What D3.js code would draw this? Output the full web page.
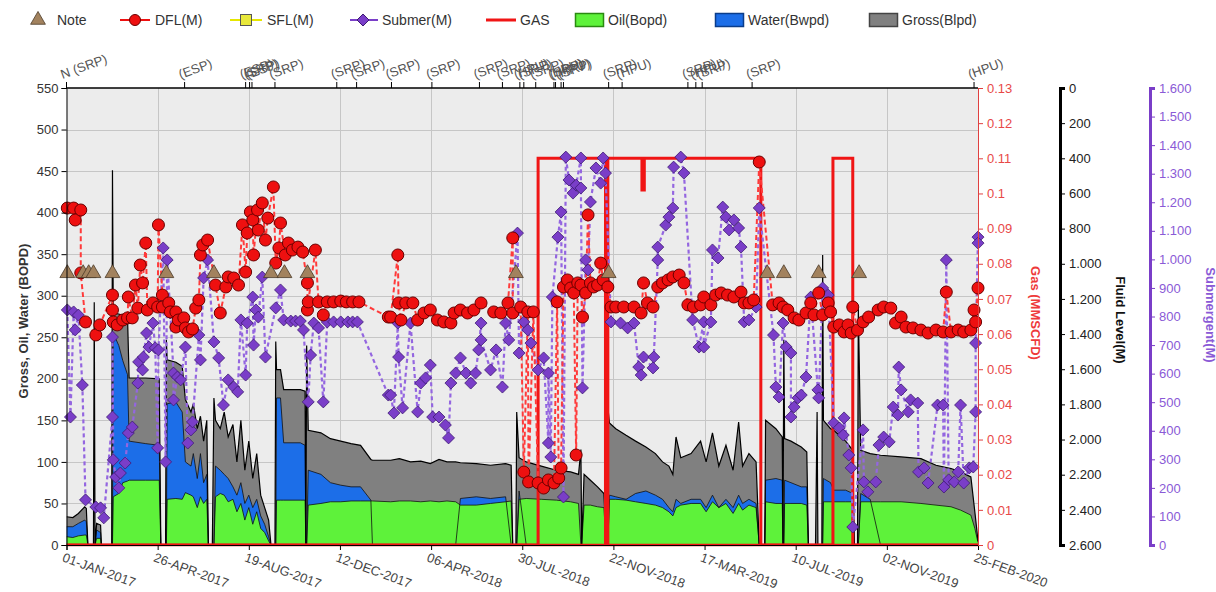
<!DOCTYPE html>
<html>
<head>
<meta charset="utf-8">
<script src="https://cdn.jsdelivr.net/npm/d3@7"></script>
<style>
  body { margin: 0; background: #fff; }
  svg { display: block; font-family: "Liberation Sans", Arial, sans-serif; }
</style>
</head>
<body>
<svg id="chart" width="1216" height="592"></svg>
<script>
// ---------- data ----------
// All day values are days counted from 01-JAN-2017.
const dateTickLabels = ["01-JAN-2017", "26-APR-2017", "19-AUG-2017", "12-DEC-2017", "06-APR-2018",
  "30-JUL-2018", "22-NOV-2018", "17-MAR-2019", "10-JUL-2019", "02-NOV-2019", "25-FEB-2020"];
const rateTicks = [0, 50, 100, 150, 200, 250, 300, 350, 400, 450, 500, 550];
const gasTicks = [0, 0.01, 0.02, 0.03, 0.04, 0.05, 0.06, 0.07, 0.08, 0.09, 0.1, 0.11, 0.12, 0.13];
const fluidTicks = [0, 200, 400, 600, 800, 1000, 1200, 1400, 1600, 1800, 2000, 2200, 2400, 2600];
const submTicks = [0, 100, 200, 300, 400, 500, 600, 700, 800, 900, 1000, 1100, 1200, 1300, 1400, 1500, 1600];

// production tests
const prodDays = [0, 8, 15, 23, 25, 27, 34, 35, 36, 38,
  43, 44, 57, 58, 59, 66, 71, 77, 79, 100,
  117, 119, 125, 126, 127, 138, 146, 150, 157, 160,
  165, 169, 173, 177, 179, 184, 186, 188, 194, 199,
  204, 210, 215, 220, 225, 230, 235, 240, 245, 250,
  255, 258, 263, 264, 265, 270, 274, 295, 301, 302,
  303, 305, 321, 333, 346, 359, 371, 384, 386, 409,
  420, 434, 447, 459, 470, 480, 491, 497, 517, 535,
  554, 561, 563, 567, 568, 571, 580, 599, 618, 636,
  646, 649, 650, 653, 661, 670, 678, 681, 683, 685,
  693, 706, 718, 731, 743, 752, 760, 765, 769, 775,
  788, 800, 807, 815, 823, 832, 841, 848, 853, 861,
  870, 874, 881, 882, 895, 903, 904, 905, 906, 914,
  927, 934, 936, 945, 947, 948, 953, 954, 955, 964,
  968, 983, 992, 994, 998, 999, 1002, 1014, 1027, 1053,
  1078, 1097, 1116, 1128, 1141, 1146, 1150];
const grossBlpd = [34, 33, 38, 46, 44, 0, 0, 292, 0, 26,
  24, 0, 0, 451, 279, 278, 276, 274, 201, 201,
  200, 0, 0, 247, 223, 220, 215, 175, 160, 170,
  140, 155, 125, 150, 0, 0, 177, 150, 140, 160,
  130, 145, 100, 150, 90, 125, 80, 110, 60, 45,
  30, 0, 0, 245, 211, 211, 187, 187, 185, 0,
  240, 138, 135, 128, 125, 122, 120, 103, 102, 102,
  104, 100, 101, 98, 103, 100, 100, 99, 98, 96,
  98, 96, 0, 0, 160, 105, 100, 95, 90, 88,
  85, 115, 0, 85, 78, 70, 62, 0, 166, 147,
  140, 132, 125, 118, 110, 100, 95, 85, 130, 105,
  110, 125, 100, 135, 95, 120, 90, 148, 95, 110,
  100, 0, 0, 150, 140, 130, 0, 247, 128, 125,
  118, 112, 0, 0, 160, 0, 0, 349, 150, 140,
  138, 125, 114, 0, 0, 286, 114, 110, 108, 106,
  104, 96, 92, 88, 82, 40, 5];
const waterBwpd = [22, 22, 26, 30, 28, 0, 0, 0, 0, 18,
  15, 0, 0, 0, 255, 240, 222, 205, 125, 122,
  120, 0, 0, 0, 170, 172, 160, 100, 95, 110,
  80, 110, 75, 85, 0, 0, 0, 95, 90, 85,
  80, 70, 60, 75, 50, 60, 45, 55, 35, 25,
  10, 0, 0, 0, 177, 177, 123, 123, 120, 0,
  0, 90, 85, 75, 72, 70, 70, 54, 0, 0,
  0, 0, 0, 0, 0, 0, 0, 56, 58, 56,
  58, 0, 0, 0, 0, 65, 0, 0, 0, 0,
  0, 0, 0, 0, 0, 0, 0, 0, 0, 60,
  58, 55, 62, 65, 60, 55, 45, 40, 55, 50,
  55, 55, 45, 60, 45, 55, 45, 60, 50, 55,
  50, 0, 0, 78, 80, 78, 0, 0, 78, 75,
  70, 70, 0, 0, 0, 0, 0, 0, 80, 75,
  66, 66, 62, 0, 0, 0, 62, 55, 0, 0,
  0, 0, 0, 0, 0, 0, 0];
const oilBopd = [10, 9, 11, 12, 12, 0, 0, 0, 0, 8,
  8, 0, 0, 0, 58, 62, 75, 77, 78, 78,
  78, 0, 0, 0, 55, 56, 55, 63, 60, 58,
  45, 58, 50, 55, 0, 0, 0, 58, 62, 60,
  52, 55, 40, 50, 30, 45, 25, 40, 20, 15,
  5, 0, 0, 0, 54, 54, 54, 54, 54, 0,
  0, 48, 50, 52, 52, 53, 53, 53, 53, 52,
  53, 53, 52, 53, 52, 53, 52, 48, 48, 50,
  52, 53, 0, 0, 0, 55, 56, 55, 54, 52,
  50, 0, 0, 48, 48, 46, 45, 0, 0, 55,
  55, 54, 52, 50, 48, 45, 40, 35, 45, 48,
  50, 50, 40, 52, 45, 50, 38, 50, 42, 48,
  45, 0, 0, 52, 50, 50, 0, 0, 50, 50,
  50, 48, 0, 0, 0, 0, 0, 0, 52, 52,
  52, 52, 52, 0, 0, 0, 52, 52, 52, 52,
  50, 48, 46, 42, 36, 20, 3];

// gas rate steps [day, MMSCFD]
const gasSteps = [[0, 0], [595, 0.11], [680, 0], [683, 0.11], [726, 0.101], [729, 0.11],
  [876, 0], [967, 0.11], [992, 0], [1150, 0]];

// dynamic fluid level [day, m]
const dflReadings = [[1, 683], [9, 683], [11, 751], [18, 694], [18, 1052], [24, 1331], [37, 1405], [42, 1348],
  [58, 1178], [58, 1263], [59, 1331], [64, 1348], [71, 1320], [77, 1308], [78, 1189], [83, 1308], [87, 1121],
  [90, 1252], [93, 1007], [96, 1109], [100, 882], [102, 1263], [109, 1223], [115, 1246], [116, 779], [121, 1178],
  [121, 1246], [129, 1223], [131, 1274], [138, 1274], [138, 1360], [141, 1320], [148, 1308], [150, 1365],
  [154, 1388], [159, 1371], [163, 1252], [167, 1206], [169, 950], [172, 893], [178, 865], [188, 1121],
  [194, 1280], [201, 1132], [204, 1075], [211, 1081], [217, 1121], [222, 779], [226, 1047], [228, 825],
  [232, 705], [235, 751], [236, 950], [241, 694], [242, 808], [247, 654], [251, 865], [254, 740], [261, 563],
  [264, 996], [268, 910], [270, 768], [276, 950], [280, 882], [285, 922], [292, 905], [298, 933], [304, 1109],
  [304, 1263], [305, 1217], [314, 922], [318, 1217], [324, 1291], [329, 1217], [337, 1217], [346, 1212],
  [353, 1217], [361, 1217], [369, 1217], [406, 1303], [409, 1303], [418, 950], [419, 1223], [422, 1320],
  [428, 1223], [437, 1223], [443, 1320], [451, 1280], [459, 1263], [468, 1320], [476, 1331], [485, 1337],
  [489, 1280], [497, 1263], [506, 1280], [514, 1263], [523, 1223], [539, 1274], [548, 1280], [557, 1223],
  [563, 853], [563, 1280], [573, 1246], [577, 2185], [582, 1274], [583, 2241], [589, 1274], [595, 2247],
  [602, 2276], [608, 2230], [615, 2247], [619, 1217], [621, 2219], [624, 2162], [627, 1132], [632, 1092],
  [636, 1138], [640, 1166], [643, 2088], [645, 1109], [649, 1121], [651, 1303], [655, 1166], [658, 722],
  [661, 1109], [665, 1132], [670, 1121], [674, 996], [677, 1092], [683, 1132], [687, 1246], [693, 1246],
  [703, 1246], [716, 1246], [725, 1280], [728, 1109], [733, 1223], [740, 1246], [746, 1132], [752, 1109],
  [759, 1092], [765, 1075], [773, 1064], [779, 1109], [784, 1234], [791, 1246], [800, 1234], [804, 1189],
  [813, 1234], [819, 1178], [826, 1166], [834, 1178], [842, 1189], [851, 1161], [855, 1223], [861, 1223],
  [867, 1206], [874, 421], [891, 1234], [899, 1223], [904, 1246], [910, 1263], [918, 1308], [924, 1320],
  [933, 1280], [939, 1223], [943, 1291], [949, 1166], [954, 1291], [961, 1223], [964, 1274], [968, 1360],
  [975, 1348], [981, 1388], [986, 1348], [990, 1394], [992, 1246], [998, 1377], [1005, 1331], [1012, 1303],
  [1024, 1263], [1031, 1246], [1040, 1252], [1046, 1337], [1053, 1303], [1059, 1360], [1068, 1365],
  [1078, 1377], [1087, 1394], [1097, 1377], [1106, 1388], [1110, 1161], [1116, 1388], [1125, 1377],
  [1132, 1388], [1141, 1377], [1145, 1263], [1147, 1331], [1150, 1138]];

// pump submergence [day, m]
const submReadings = [[1, 823], [5, 448], [9, 816], [11, 753], [15, 805], [20, 560], [24, 158], [37, 133],
  [43, 130], [47, 95], [58, 448], [58, 728], [59, 298], [62, 238], [66, 200], [68, 252], [74, 287], [78, 392],
  [83, 413], [90, 567], [91, 641], [96, 613], [97, 658], [101, 742], [104, 693], [109, 777], [112, 690],
  [115, 340], [116, 683], [122, 1040], [125, 291], [127, 998], [131, 812], [135, 602], [135, 508], [140, 588],
  [144, 578], [150, 693], [153, 357], [157, 403], [159, 431], [167, 735], [169, 648], [173, 935], [178, 998],
  [186, 711], [192, 655], [198, 490], [204, 578], [211, 553], [216, 536], [220, 788], [226, 595], [228, 777],
  [235, 868], [236, 700], [239, 823], [242, 798], [247, 938], [251, 658], [264, 830], [270, 893], [274, 788],
  [283, 784], [289, 784], [295, 784], [299, 753], [305, 501], [308, 665], [312, 777], [318, 760], [324, 501],
  [329, 781], [337, 781], [346, 781], [355, 781], [361, 781], [367, 781], [406, 525], [409, 525], [413, 462],
  [418, 777], [419, 658], [424, 480], [434, 777], [443, 466], [447, 567], [453, 585], [459, 630], [462, 448],
  [470, 448], [478, 420], [482, 375], [485, 567], [491, 602], [497, 655], [504, 602], [510, 567], [516, 602],
  [520, 683], [523, 777], [523, 718], [535, 613], [542, 683], [550, 553], [554, 777], [558, 718], [569, 1092],
  [571, 672], [577, 781], [582, 753], [586, 707], [595, 613], [602, 655], [608, 357], [608, 602], [611, 308],
  [613, 868], [620, 1078], [624, 1166], [627, 168], [630, 1358], [634, 1278], [639, 1232], [643, 1260],
  [649, 1355], [649, 1250], [651, 550], [655, 998], [658, 963], [661, 1201], [668, 1320], [674, 1267],
  [677, 1355], [680, 1302], [687, 781], [699, 777], [708, 760], [716, 777], [722, 623], [725, 595], [728, 658],
  [740, 620], [741, 658], [746, 998], [746, 1043], [756, 1120], [760, 1148], [765, 1180], [766, 1323],
  [775, 1358], [779, 1302], [790, 788], [798, 693], [804, 781], [804, 693], [813, 781], [815, 1033],
  [822, 1005], [828, 1183], [832, 1148], [836, 1103], [842, 1138], [848, 1110], [851, 1043], [855, 781],
  [861, 788], [870, 833], [874, 1180], [892, 735], [895, 553], [899, 518], [904, 777], [908, 693], [914, 672],
  [914, 448], [918, 483], [923, 515], [927, 525], [933, 588], [939, 868], [948, 543], [949, 515], [954, 900],
  [961, 875], [968, 427], [975, 410], [980, 385], [981, 445], [987, 315], [990, 270], [992, 63], [1005, 403],
  [1006, 221], [1011, 186], [1021, 221], [1025, 350], [1031, 378], [1038, 361], [1043, 483], [1049, 455],
  [1050, 623], [1053, 543], [1062, 466], [1065, 508], [1074, 497], [1075, 256], [1082, 270], [1087, 217],
  [1099, 490], [1106, 490], [1107, 203], [1110, 998], [1113, 228], [1120, 221], [1125, 256], [1128, 490],
  [1132, 217], [1139, 270], [1144, 273], [1147, 466], [1147, 707], [1150, 1078], [1150, 1057]];

// notes
const noteDays = [1, 21, 28, 34, 58, 126, 186, 258, 275, 304, 567, 684, 884, 905, 949, 1000];
const noteLevel = 327;

// well events shown above the plot
const eventDays = [0, 149, 226, 231, 234, 263, 341, 366, 410, 461, 521, 550, 572, 577, 592,
  615, 617, 624, 627, 684, 701, 784, 794, 802, 865, 1145];
const eventLabels = ["N (SRP)", "(ESP)", "(ESP)", "(SRP)", "(ESP)", "(SRP)", "(SRP)", "(SRP)", "(SRP)", "(SRP)",
  "(SRP)", "(SRP)", "(HPU)", "(SRP)", "(SRP)", "(HPU)", "(SRP)", "(HPU)", "(SRP)", "(SRP)", "(HPU)",
  "(SRP)", "(HPU)", "(SRP)", "(SRP)", "(HPU)"];

// ---------- layout ----------
const FONT = "'Liberation Sans', Arial, sans-serif";
const P = { left: 66.5, right: 978, top: 88, bottom: 545 };
const C = {
  grid: "#c6c6c6", bg: "#ececec", gross: "#808080", water: "#1c6ee8", oil: "#5ef23a",
  gas: "#f01515", dfl: "#ee1010", dflLine: "#ff3a3a", subm: "#7a3ec8", submLine: "#9466e0",
  note: "#a2825e", text: "#333"
};

const svg = d3.select("#chart");
const t0 = new Date(2017, 0, 1);
const toDate = d => d3.timeDay.offset(t0, d);
const parseTick = d3.timeParse("%d-%b-%Y");
const tickDates = dateTickLabels.map(parseTick);

const x = d3.scaleTime().domain([t0, new Date(2020, 1, 25)]).range([P.left, P.right]);
const yRate = d3.scaleLinear().domain([0, 550]).range([P.bottom, P.top]);
const yGas = d3.scaleLinear().domain([0, 0.13]).range([P.bottom, P.top]);
const yFluid = d3.scaleLinear().domain([0, 2600]).range([P.top, P.bottom]);
const ySubm = d3.scaleLinear().domain([0, 1600]).range([P.bottom, P.top]);

const dotLocale = d3.formatLocale({ decimal: ",", thousands: ".", grouping: [3], currency: ["", ""] });
const fmtThousands = dotLocale.format(",d");

// plot frame
svg.append("rect").attr("x", P.left).attr("y", P.top)
  .attr("width", P.right - P.left).attr("height", P.bottom - P.top).attr("fill", C.bg);

svg.append("defs").append("clipPath").attr("id", "plotClip")
  .append("rect").attr("x", P.left).attr("y", P.top - 1)
  .attr("width", P.right - P.left).attr("height", P.bottom - P.top + 2);

const grid = svg.append("g");
grid.selectAll("line.h").data(rateTicks.slice(1, -1)).join("line")
  .attr("x1", P.left).attr("x2", P.right)
  .attr("y1", d => Math.round(yRate(d)) + 0.5).attr("y2", d => Math.round(yRate(d)) + 0.5)
  .attr("stroke", C.grid);
grid.selectAll("line.v").data(tickDates.slice(1, -1)).join("line")
  .attr("y1", P.top).attr("y2", P.bottom)
  .attr("x1", d => Math.round(x(d)) + 0.5).attr("x2", d => Math.round(x(d)) + 0.5)
  .attr("stroke", C.grid);

const plot = svg.append("g").attr("clip-path", "url(#plotClip)");

// production areas
const rows = prodDays.map((d, i) => ({ t: toDate(d), g: grossBlpd[i], w: waterBwpd[i], o: oilBopd[i] }));
const areaOf = k => d3.area().x(d => x(d.t)).y0(yRate(0)).y1(d => yRate(d[k]));
const lineOf = k => d3.line().x(d => x(d.t)).y(d => yRate(d[k]));

plot.append("path").attr("d", areaOf("g")(rows)).attr("fill", C.gross);
plot.append("path").attr("d", areaOf("w")(rows)).attr("fill", C.water);
plot.append("path").attr("d", areaOf("o")(rows)).attr("fill", C.oil);
plot.append("path").attr("d", lineOf("w")(rows)).attr("fill", "none").attr("stroke", "#111").attr("stroke-width", 0.8);
plot.append("path").attr("d", lineOf("o")(rows)).attr("fill", "none").attr("stroke", "#111").attr("stroke-width", 0.8);
plot.append("path").attr("d", lineOf("g")(rows)).attr("fill", "none").attr("stroke", "#000").attr("stroke-width", 1.2);

// gas
plot.append("path")
  .attr("d", d3.line().curve(d3.curveStepAfter).x(d => x(toDate(d[0]))).y(d => yGas(d[1]))(gasSteps))
  .attr("fill", "none").attr("stroke", C.gas).attr("stroke-width", 3);

// dashed connectors
plot.append("path")
  .attr("d", d3.line().x(d => x(toDate(d[0]))).y(d => ySubm(d[1]))(submReadings))
  .attr("fill", "none").attr("stroke", C.submLine).attr("stroke-width", 2.2).attr("stroke-dasharray", "4,3");
plot.append("path")
  .attr("d", d3.line().x(d => x(toDate(d[0]))).y(d => yFluid(d[1]))(dflReadings))
  .attr("fill", "none").attr("stroke", C.dflLine).attr("stroke-width", 2).attr("stroke-dasharray", "5,3");

// markers
const diamond = "M0,-6L6,0L0,6L-6,0Z";
svg.append("g").selectAll("path").data(submReadings).join("path")
  .attr("d", diamond)
  .attr("transform", d => `translate(${x(toDate(d[0]))},${ySubm(d[1])})`)
  .attr("fill", C.subm).attr("stroke", "#3d1a72").attr("stroke-width", 0.8);
svg.append("g").selectAll("circle").data(dflReadings).join("circle")
  .attr("cx", d => x(toDate(d[0]))).attr("cy", d => yFluid(d[1])).attr("r", 6)
  .attr("fill", C.dfl).attr("stroke", "#6a0000").attr("stroke-width", 1);
const tri = d3.symbol(d3.symbolTriangle, 95)();
svg.append("g").selectAll("path").data(noteDays).join("path")
  .attr("d", tri)
  .attr("transform", d => `translate(${x(toDate(d))},${yRate(noteLevel)})`)
  .attr("fill", C.note).attr("stroke", "#4a3a28").attr("stroke-width", 0.8);

// gas zero line along the bottom
svg.append("line").attr("x1", P.left).attr("x2", P.right).attr("y1", yGas(0)).attr("y2", yGas(0))
  .attr("stroke", C.gas).attr("stroke-width", 2.5);

// ---------- axes ----------
function styleAxis(g, color, size) {
  g.attr("font-family", FONT).attr("font-size", size);
  g.selectAll("text").attr("fill", color);
}

// left rate axis
const axL = svg.append("g").attr("transform", `translate(${P.left},0)`)
  .call(d3.axisLeft(yRate).tickValues(rateTicks).tickSize(5).tickPadding(3));
axL.selectAll("line,path").attr("stroke", "#000");
styleAxis(axL, C.text, 13);

// top border with event ticks
svg.append("line").attr("x1", P.left).attr("x2", P.right).attr("y1", P.top).attr("y2", P.top)
  .attr("stroke", "#000").attr("stroke-width", 1.5);
const ev = svg.append("g");
ev.selectAll("line").data(eventDays).join("line")
  .attr("x1", d => x(toDate(d))).attr("x2", d => x(toDate(d)))
  .attr("y1", P.top).attr("y2", P.top - 6).attr("stroke", "#000");
ev.selectAll("text").data(eventDays).join("text")
  .attr("transform", d => `translate(${x(toDate(d)) - 4},${P.top - 9}) rotate(-20)`)
  .attr("font-family", FONT).attr("font-size", 13).attr("fill", "#555")
  .text((d, i) => eventLabels[i]);

// bottom date axis
const axB = svg.append("g").attr("transform", `translate(0,${P.bottom})`)
  .call(d3.axisBottom(x).tickValues(tickDates).tickSize(5).tickFormat(""));
axB.selectAll("line,path").attr("stroke", "#000");
svg.append("g").selectAll("text").data(tickDates).join("text")
  .attr("transform", d => `translate(${x(d) - 5},${P.bottom + 16}) rotate(20)`)
  .attr("font-family", FONT).attr("font-size", 13).attr("fill", "#444")
  .text((d, i) => dateTickLabels[i]);

// gas axis
const axG = svg.append("g").attr("transform", `translate(${P.right},0)`)
  .call(d3.axisRight(yGas).tickValues(gasTicks).tickSize(5).tickPadding(4)
    .tickFormat(v => String(+v.toFixed(2))));
axG.selectAll("line,path").attr("stroke", "#e04040");
styleAxis(axG, "#e84848", 13);

// fluid level axis
const axF = svg.append("g").attr("transform", "translate(1060,0)")
  .call(d3.axisRight(yFluid).tickValues(fluidTicks).tickSize(5).tickPadding(4).tickFormat(fmtThousands));
axF.selectAll("line").attr("stroke", "#000");
axF.select(".domain").attr("stroke", "#000").attr("stroke-width", 3);
styleAxis(axF, "#222", 13);

// submergence axis
const axS = svg.append("g").attr("transform", "translate(1150,0)")
  .call(d3.axisRight(ySubm).tickValues(submTicks).tickSize(5).tickPadding(4).tickFormat(fmtThousands));
axS.selectAll("line").attr("stroke", C.subm);
axS.select(".domain").attr("stroke", C.subm).attr("stroke-width", 3);
styleAxis(axS, "#8a5ad6", 13);

// axis titles
function vTitle(text, cx, cy, angle, color) {
  svg.append("text")
    .attr("transform", `translate(${cx},${cy}) rotate(${angle})`)
    .attr("text-anchor", "middle").attr("dominant-baseline", "central")
    .attr("font-family", FONT).attr("font-size", 13).attr("font-weight", "bold")
    .attr("fill", color).text(text);
}
vTitle("Gross, Oil, Water (BOPD)", 23, 321, -90, C.text);
vTitle("Gas (MMSCFD)", 1035, 313, 90, "#ee3a3a");
vTitle("Fluid Level(M)", 1120, 320, 90, "#111");
vTitle("Submergent(M)", 1210, 315, 90, "#8a5ad6");

// ---------- legend ----------
const lg = svg.append("g").attr("font-family", FONT).attr("font-size", 14).attr("fill", C.text);
const LY = 20;
lg.append("path").attr("d", d3.symbol(d3.symbolTriangle, 95)())
  .attr("transform", `translate(38,${LY})`).attr("fill", C.note).attr("stroke", "#4a3a28").attr("stroke-width", 0.8);
lg.append("text").attr("x", 57).attr("y", LY + 5).text("Note");

lg.append("line").attr("x1", 120).attr("x2", 150).attr("y1", LY).attr("y2", LY).attr("stroke", C.dfl).attr("stroke-width", 2);
lg.append("circle").attr("cx", 135).attr("cy", LY).attr("r", 5.5).attr("fill", C.dfl).attr("stroke", "#6a0000");
lg.append("text").attr("x", 155).attr("y", LY + 5).text("DFL(M)");

lg.append("line").attr("x1", 230).attr("x2", 262).attr("y1", LY).attr("y2", LY).attr("stroke", "#e6e600").attr("stroke-width", 2);
lg.append("rect").attr("x", 240.5).attr("y", LY - 5.5).attr("width", 11).attr("height", 11)
  .attr("fill", "#e8e83a").attr("stroke", "#555");
lg.append("text").attr("x", 267).attr("y", LY + 5).text("SFL(M)");

lg.append("line").attr("x1", 350).attr("x2", 378).attr("y1", LY).attr("y2", LY).attr("stroke", C.subm).attr("stroke-width", 2);
lg.append("path").attr("d", diamond).attr("transform", `translate(363,${LY})`).attr("fill", C.subm).attr("stroke", "#3d1a72");
lg.append("text").attr("x", 382).attr("y", LY + 5).text("Submer(M)");

lg.append("line").attr("x1", 486).attr("x2", 516).attr("y1", LY).attr("y2", LY).attr("stroke", C.gas).attr("stroke-width", 3);
lg.append("text").attr("x", 520).attr("y", LY + 5).text("GAS");

const boxes = [["Oil(Bopd)", 575, C.oil, "#2a8a10"], ["Water(Bwpd)", 715, C.water, "#0b3d8a"], ["Gross(Blpd)", 869, C.gross, "#444"]];
boxes.forEach(([label, bx, fill, stroke]) => {
  lg.append("rect").attr("x", bx + 0.5).attr("y", LY - 6.5).attr("width", 28).attr("height", 13)
    .attr("fill", fill).attr("stroke", stroke).attr("stroke-width", 1.5);
  lg.append("text").attr("x", bx + 33).attr("y", LY + 5).text(label);
});
</script>
</body>
</html>
